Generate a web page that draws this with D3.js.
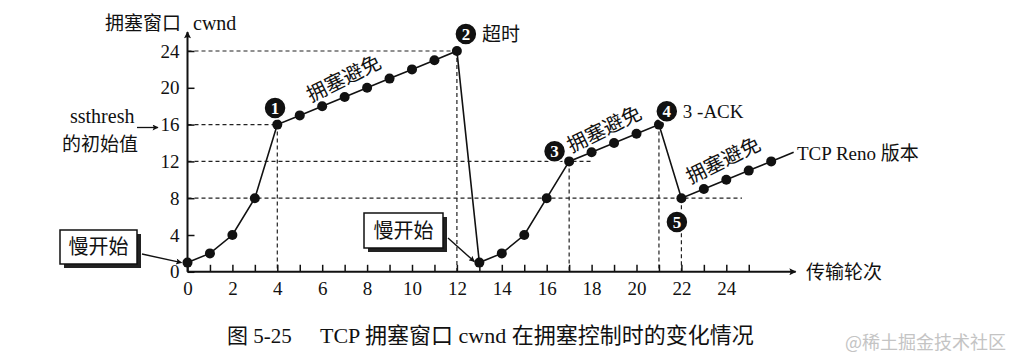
<!DOCTYPE html>
<html><head><meta charset="utf-8">
<script src="https://cdn.jsdelivr.net/npm/d3@7"></script>
<style>
html,body{margin:0;padding:0;background:#fff;}
svg{display:block;}
text{font-family:"Liberation Serif","Noto Sans CJK SC",serif;fill:#111;}
.cjk{font-family:"Noto Sans CJK SC","Liberation Serif",sans-serif;}
</style></head>
<body>
<svg id="chart" width="1011" height="359"></svg>
<script>
// ---- data ----
const rounds = [0,1,2,3,4,5,6,7,8,9,10,11,12,13,14,15,16,17,18,19,20,21,22,23,24,25,26];
const cwnd   = [1,2,4,8,16,17,18,19,20,21,22,23,24,1,2,4,8,12,13,14,15,16,8,9,10,11,12];
const extension = [[26,12],[27,13]];          // line continues toward "TCP Reno 版本"
const xTickValues = [0,1,2,3,4,5,6,7,8,9,10,11,12,13,14,15,16,17,18,19,20,21,22,23,24,25];
const xTickLabels = [0,2,4,6,8,10,12,14,16,18,20,22,24];
const yTickValues = [0,4,8,12,16,20,24];
const hGuides = [{y:24,x2:12},{y:16,x2:4},{y:12,x2:18.0},{y:8,x2:24.7}];
const vGuides = [{x:4,y:16},{x:12,y:24},{x:17,y:12},{x:21,y:16},{x:22,y:8}];
const markers = [
  {n:"1", x:3.9,  y:17.8},
  {n:"2", x:12.4, y:25.85, label:"超时"},
  {n:"3", x:16.35,y:13.1},
  {n:"4", x:21.35,y:17.45, label:"3 -ACK"},
  {n:"5", x:21.8, y:5.4}
];
const avoidLabels = [{x:7.1,y:21.1},{x:18.7,y:15.6},{x:24.0,y:12.2}];

const svg = d3.select("#chart");
const x = d3.scaleLinear().domain([0,24]).range([187.5, 187.5+24*22.45]);
const y = d3.scaleLinear().domain([0,24]).range([271.8, 51]);

// arrow marker
const defs = svg.append("defs");
defs.append("marker").attr("id","arr").attr("viewBox","0 0 10 10").attr("refX",9).attr("refY",5)
  .attr("markerWidth",10).attr("markerHeight",7).attr("markerUnits","userSpaceOnUse").attr("orient","auto")
  .append("path").attr("d","M0,0 L10,5 L0,10 L2,5 Z").attr("fill","#111");
defs.append("marker").attr("id","arrS").attr("viewBox","0 0 10 10").attr("refX",9).attr("refY",5)
  .attr("markerWidth",8).attr("markerHeight",6).attr("markerUnits","userSpaceOnUse").attr("orient","auto")
  .append("path").attr("d","M0,0 L10,5 L0,10 L2,5 Z").attr("fill","#111");

// dashed guides
const g = svg.append("g").attr("stroke","#222").attr("stroke-width",1.2).attr("stroke-dasharray","4,3").attr("fill","none");
g.selectAll("line.h").data(hGuides).join("line").attr("class","h")
  .attr("x1",x(0)).attr("x2",d=>x(d.x2)).attr("y1",d=>y(d.y)).attr("y2",d=>y(d.y));
g.selectAll("line.v").data(vGuides).join("line").attr("class","v")
  .attr("x1",d=>x(d.x)).attr("x2",d=>x(d.x)).attr("y1",d=>y(d.y)).attr("y2",y(0));

// axes
const xAxis = d3.axisBottom(x).tickValues(xTickValues)
  .tickFormat(d => xTickLabels.includes(d) ? d : "").tickSizeInner(-7).tickSizeOuter(0).tickPadding(10);
const gx = svg.append("g").attr("transform",`translate(0,${y(0)})`).call(xAxis);
gx.select(".domain").remove();
gx.selectAll(".tick line").attr("stroke","#111").attr("stroke-width",1.5);
gx.selectAll("text").attr("font-size",19).attr("fill","#111").attr("font-family","Liberation Serif");

const yAxis = d3.axisLeft(y).tickValues(yTickValues).tickSizeInner(-7).tickSizeOuter(0).tickPadding(8);
const gy = svg.append("g").attr("transform",`translate(${x(0)},0)`).call(yAxis);
gy.select(".domain").remove();
gy.selectAll(".tick line").attr("stroke","#111").attr("stroke-width",1.5);
gy.selectAll("text").attr("font-size",19).attr("fill","#111").attr("font-family","Liberation Serif");

svg.append("line").attr("x1",x(0)).attr("y1",y(0)).attr("x2",x(27)+2).attr("y2",y(0))
  .attr("stroke","#111").attr("stroke-width",2).attr("marker-end","url(#arr)");
svg.append("line").attr("x1",x(0)).attr("y1",y(0)).attr("x2",x(0)).attr("y2",32)
  .attr("stroke","#111").attr("stroke-width",2).attr("marker-end","url(#arr)");

// data line
const pts = rounds.map((r,i)=>[r,cwnd[i]]);
const line = d3.line().x(d=>x(d[0])).y(d=>y(d[1]));
svg.append("path").datum(pts).attr("d",line).attr("fill","none").attr("stroke","#111").attr("stroke-width",1.6);
svg.append("path").datum(extension).attr("d",line).attr("fill","none").attr("stroke","#111").attr("stroke-width",1.6);
svg.append("g").selectAll("circle").data(pts).join("circle")
  .attr("cx",d=>x(d[0])).attr("cy",d=>y(d[1])).attr("r",5).attr("fill","#111");

// axis titles
svg.append("text").attr("x",105).attr("y",30).attr("font-size",19).attr("class","cjk").text("拥塞窗口");
svg.append("text").attr("x",193).attr("y",30).attr("font-size",20).text("cwnd");
svg.append("text").attr("x",806).attr("y",279).attr("font-size",19).attr("class","cjk").text("传输轮次");

// ssthresh
svg.append("text").attr("x",70).attr("y",123).attr("font-size",20).text("ssthresh");
svg.append("text").attr("x",62).attr("y",151).attr("font-size",19).attr("class","cjk").text("的初始值");
svg.append("line").attr("x1",137).attr("y1",127.5).attr("x2",158).attr("y2",127.5)
  .attr("stroke","#111").attr("stroke-width",1.3).attr("marker-end","url(#arrS)");

// slow start boxes
function box(x0,y0,w,h,tx,ty){
  const b = svg.append("g");
  b.append("rect").attr("x",x0+4).attr("y",y0+4).attr("width",w).attr("height",h).attr("fill","#222");
  b.append("rect").attr("x",x0).attr("y",y0).attr("width",w).attr("height",h).attr("fill","#fff").attr("stroke","#111").attr("stroke-width",1.5);
  b.append("text").attr("x",x0+w/2).attr("y",y0+h/2+7).attr("text-anchor","middle").attr("font-size",20).attr("class","cjk").text("慢开始");
  b.append("line").attr("x1",x0+w+5).attr("y1",y0+h-10).attr("x2",tx).attr("y2",ty)
    .attr("stroke","#111").attr("stroke-width",1.4).attr("marker-end","url(#arrS)");
}
box(60,230,77,34, x(0)-6, y(1));
box(364,213,79,35, x(13)-5, y(1)-1);

// congestion-avoidance labels
const slopeDeg = Math.atan((y(16)-y(24))/(x(12)-x(4)))*180/Math.PI;
avoidLabels.forEach(d=>{
  svg.append("text").attr("class","cjk").attr("font-size",20).attr("text-anchor","middle")
    .attr("transform",`translate(${x(d.x)},${y(d.y)+7}) rotate(${-slopeDeg-4})`).text("拥塞避免");
});

// numbered markers
markers.forEach(m=>{
  const cg = svg.append("g").attr("transform",`translate(${x(m.x)},${y(m.y)})`);
  cg.append("circle").attr("r",11).attr("fill","#111").attr("stroke","#fff").attr("stroke-width",1.5);
  cg.append("text").attr("text-anchor","middle").attr("y",6).attr("font-size",17).attr("font-weight","bold")
    .attr("font-family","DejaVu Sans").style("fill","#fff").text(m.n);
  if(m.label){
    cg.append("text").attr("x",16).attr("y",7).attr("font-size",19)
      .attr("class", m.n==="2" ? "cjk" : null).text(m.label);
  }
});

// TCP Reno label
svg.append("text").attr("x",797).attr("y",160).attr("font-size",19).text("TCP Reno 版本");

// caption
svg.append("text").attr("x",227).attr("y",343).attr("font-size",21).text("图 5-25");
svg.append("text").attr("x",320).attr("y",343).attr("font-size",22).text("TCP 拥塞窗口 cwnd 在拥塞控制时的变化情况");
svg.append("text").attr("x",845).attr("y",349).attr("font-size",18).attr("class","cjk").style("fill","#c4c4c4").text("@稀土掘金技术社区");
</script>
</body></html>
